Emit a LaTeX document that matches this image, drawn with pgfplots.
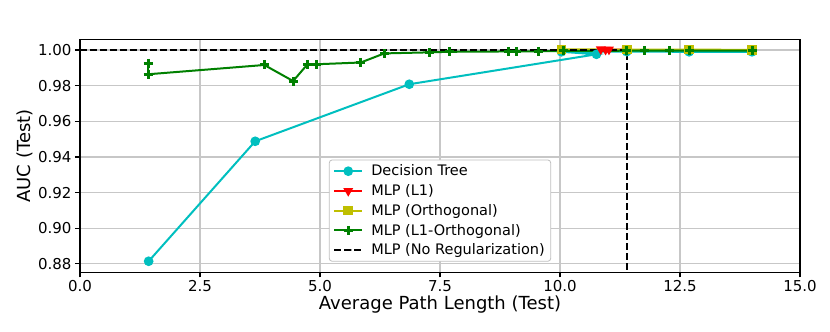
\documentclass[border=0pt]{standalone}
\usepackage{fontspec}
\setmainfont{DejaVu Sans}
\usepackage{pgfplots}
\pgfplotsset{compat=1.18}

\definecolor{mplc}{rgb}{0,0.75,0.75}
\definecolor{mplr}{rgb}{1,0,0}
\definecolor{mply}{rgb}{0.75,0.75,0}
\definecolor{mplg}{rgb}{0,0.5,0}

\begin{document}
\begin{tikzpicture}
\useasboundingbox (0,0) rectangle (830pt,332pt);
\begin{axis}[
  at={(80pt,59.7pt)}, anchor=south west,
  scale only axis,
  width=720pt, height=232.8pt,
  xmin=0, xmax=15,
  ymin=0.8753, ymax=1.0059,
  xtick={0,2.5,5,7.5,10,12.5,15},
  ytick={0.88,0.90,0.92,0.94,0.96,0.98,1.00},
  xticklabel style={/pgf/number format/.cd,fixed,fixed zerofill,precision=1},
  yticklabel style={/pgf/number format/.cd,fixed,fixed zerofill,precision=2},
  /pgf/number format/assume math mode=true,
  tick label style={font=\fontsize{15}{18}\selectfont},
  label style={font=\fontsize{18}{21}\selectfont},
  xlabel={Average Path Length (Test)},
  ylabel={AUC (Test)},
  xlabel style={yshift=3pt},
  ylabel style={yshift=-2pt},
  grid=major,
  grid style={black!22, line width=1.1pt},
  axis line style={line width=1.1pt},
  tick align=outside,
  xtick pos=bottom, ytick pos=left,
  major tick length=5pt,
  every tick/.style={black, line width=1.1pt},
  legend style={at={(0.5,0.0455)}, anchor=south,
    draw=black!25, rounded corners=3pt, line width=0.8pt,
    font=\fontsize{14.5}{16}\selectfont,
    row sep=3.2pt, inner xsep=4pt, inner ysep=3pt,
    /tikz/every odd column/.append style={column sep=6pt}},
  legend cell align=left,
  legend image code/.code={\draw[mark repeat=2,mark phase=2] plot coordinates {(0pt,0pt) (14pt,0pt) (28pt,0pt)};},
]
% Decision Tree
\addplot[mplc, line width=2pt, mark=*, mark size=3.8pt] coordinates {
  (1.43,0.8815) (3.65,0.9488) (6.86,0.9808) (10.76,0.9976)
  (10.03,0.9990) (11.39,0.9991) (12.69,0.9990) (14.00,0.9990)
};
% MLP (L1)
\addplot[mplr, line width=2pt, mark=triangle*, mark size=3.8pt, mark options={rotate=180}] coordinates {
  (10.85,1.0004) (10.95,1.0002) (11.02,1.0003) (11.39,1.0001)
};
% MLP (Orthogonal)
\addplot[mply, line width=2pt, mark=square*, mark size=3.8pt] coordinates {
  (10.03,1.0004) (11.39,1.0002) (12.69,1.0002) (14.00,1.0001)
};
% MLP (L1-Orthogonal)
\addplot[mplg, line width=2pt, mark=+, mark size=4.5pt, mark options={line width=3pt}] coordinates {
  (1.42,0.9925) (1.42,0.9864) (3.84,0.9916) (4.44,0.9826) (4.74,0.9920)
  (4.92,0.9920) (5.85,0.9930) (6.34,0.9981) (7.29,0.9987) (7.69,0.9990)
  (8.92,0.9992) (9.10,0.9993) (9.55,0.9993) (10.07,0.9995) (11.39,0.9996)
  (11.76,0.9997) (12.28,0.9997) (12.69,0.9997) (14.00,0.9997)
};
% MLP (No Regularization)
\addplot[black, line width=2pt, dash pattern=on 7pt off 3pt] coordinates {
  (0,1.0) (11.39,1.0) (11.39,0.8753)
};
\legend{Decision Tree,MLP (L1),MLP (Orthogonal),MLP (L1-Orthogonal),MLP (No Regularization)}
\end{axis}
\end{tikzpicture}
\end{document}
